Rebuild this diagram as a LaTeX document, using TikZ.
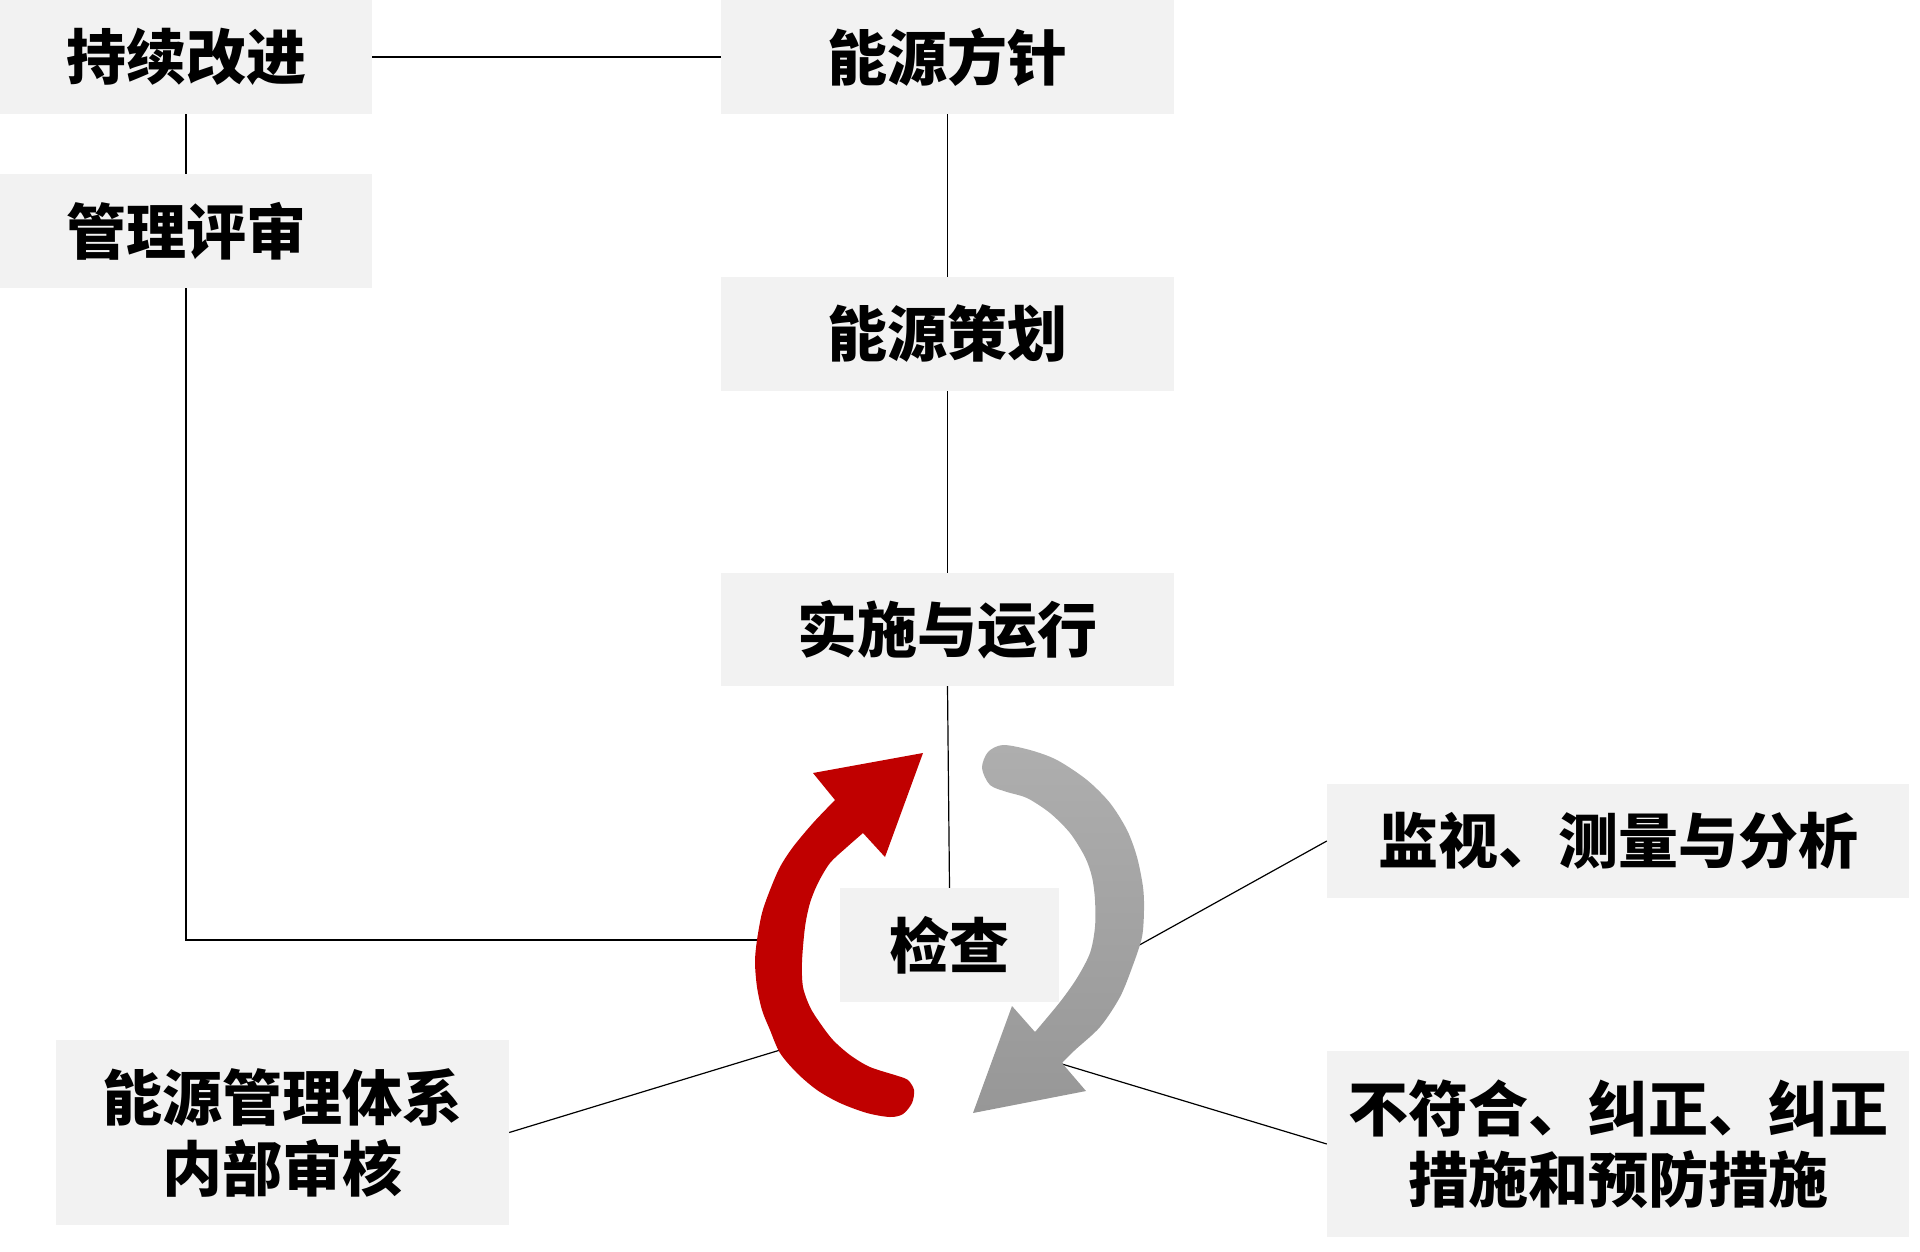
\documentclass[tikz,border=0pt]{standalone}
\usepackage{fontspec}
\newfontfamily\cjk{Noto Sans CJK SC}
\definecolor{boxgray}{HTML}{F2F2F2}
\definecolor{arrowred}{HTML}{C00000}
\definecolor{graytop}{HTML}{AEAEAE}
\definecolor{graybot}{HTML}{979797}
\begin{document}
\begin{tikzpicture}[x=1pt,y=-1pt,
  box/.style={fill=boxgray, inner sep=0pt, align=center,
    font=\cjk\bfseries\fontsize{60}{71}\selectfont},
  link/.style={draw=black, line width=1.2pt}]
\useasboundingbox (0,0) rectangle (1920,1251);

% boxes
\node[box, minimum width=372pt, minimum height=114pt] (cont) at (186,57) {持续改进};
\node[box, minimum width=453pt, minimum height=114pt] (policy) at (947.5,57) {能源方针};
\node[box, minimum width=372pt, minimum height=114pt] (review) at (186,231) {管理评审};
\node[box, minimum width=453pt, minimum height=114pt] (plan) at (947.5,334) {能源策划};
\node[box, minimum width=453pt, minimum height=113pt] (impl) at (947.5,629.5) {实施与运行};
\node[box, minimum width=219pt, minimum height=114pt] (check) at (949.5,945) {检查};
\node[box, minimum width=582pt, minimum height=114pt] (monitor) at (1618,841) {监视、测量与分析};
\node[box, minimum width=582pt, minimum height=186pt] (nc) at (1618,1144) {不符合、纠正、纠正\\措施和预防措施};
\node[box, minimum width=453pt, minimum height=185pt] (audit) at (282.5,1132.5) {能源管理体系\\内部审核};

% connectors
\coordinate (redL) at (772,940);
\coordinate (redB) at (790,1047);
\coordinate (grayR) at (1125,953);
\coordinate (grayB) at (1052,1061);
\draw[link] (cont.east) -- (policy.west);
\draw[link] (cont.south) -- (review.north);
\draw[link] (policy.south) -- (plan.north);
\draw[link] (plan.south) -- (impl.north);
\draw[link] (impl.south) -- (check.north);
\draw[link] (review.south) |- (redL);
\draw[link] (audit.east) -- (redB);
\draw[link] (monitor.west) -- (grayR);
\draw[link] (nc.west) -- (grayB);

% red circular arrow
\fill[arrowred] plot[smooth] coordinates {(835,800) (813,823) (793,847) (780,867) (770,890) (762,913) (757,940) (755,962) (757,987) (762,1010) (770,1030) (780,1053) (797,1073) (817,1090) (840,1103) (867,1113) (890,1117) (903,1114) (912,1103) (914,1090) (908,1080) (898,1076) (870,1067) (850,1055) (833,1040) (820,1023) (810,1007) (803,987) (802,962) (805,927) (810,903) (818,883) (830,863) (847,847) (863,833)} -- (885,857) -- (923,753) -- (813,773) -- cycle;

% gray circular arrow
\shade[top color=graytop, bottom color=graybot] plot[smooth] coordinates {(1062,1063) (1075,1050) (1100,1027) (1120,997) (1133,965) (1142,937) (1144,910) (1143,887) (1137,857) (1127,830) (1110,803) (1087,780) (1057,760) (1030,750) (1003,745) (988,752) (982,768) (990,785) (1007,792) (1027,798) (1050,813) (1070,833) (1085,857) (1092,877) (1095,900) (1095,927) (1090,953) (1077,978) (1060,1002) (1035,1032)} -- (1012,1006) -- (973,1113) -- (1086,1091) -- cycle;
\end{tikzpicture}
\end{document}
